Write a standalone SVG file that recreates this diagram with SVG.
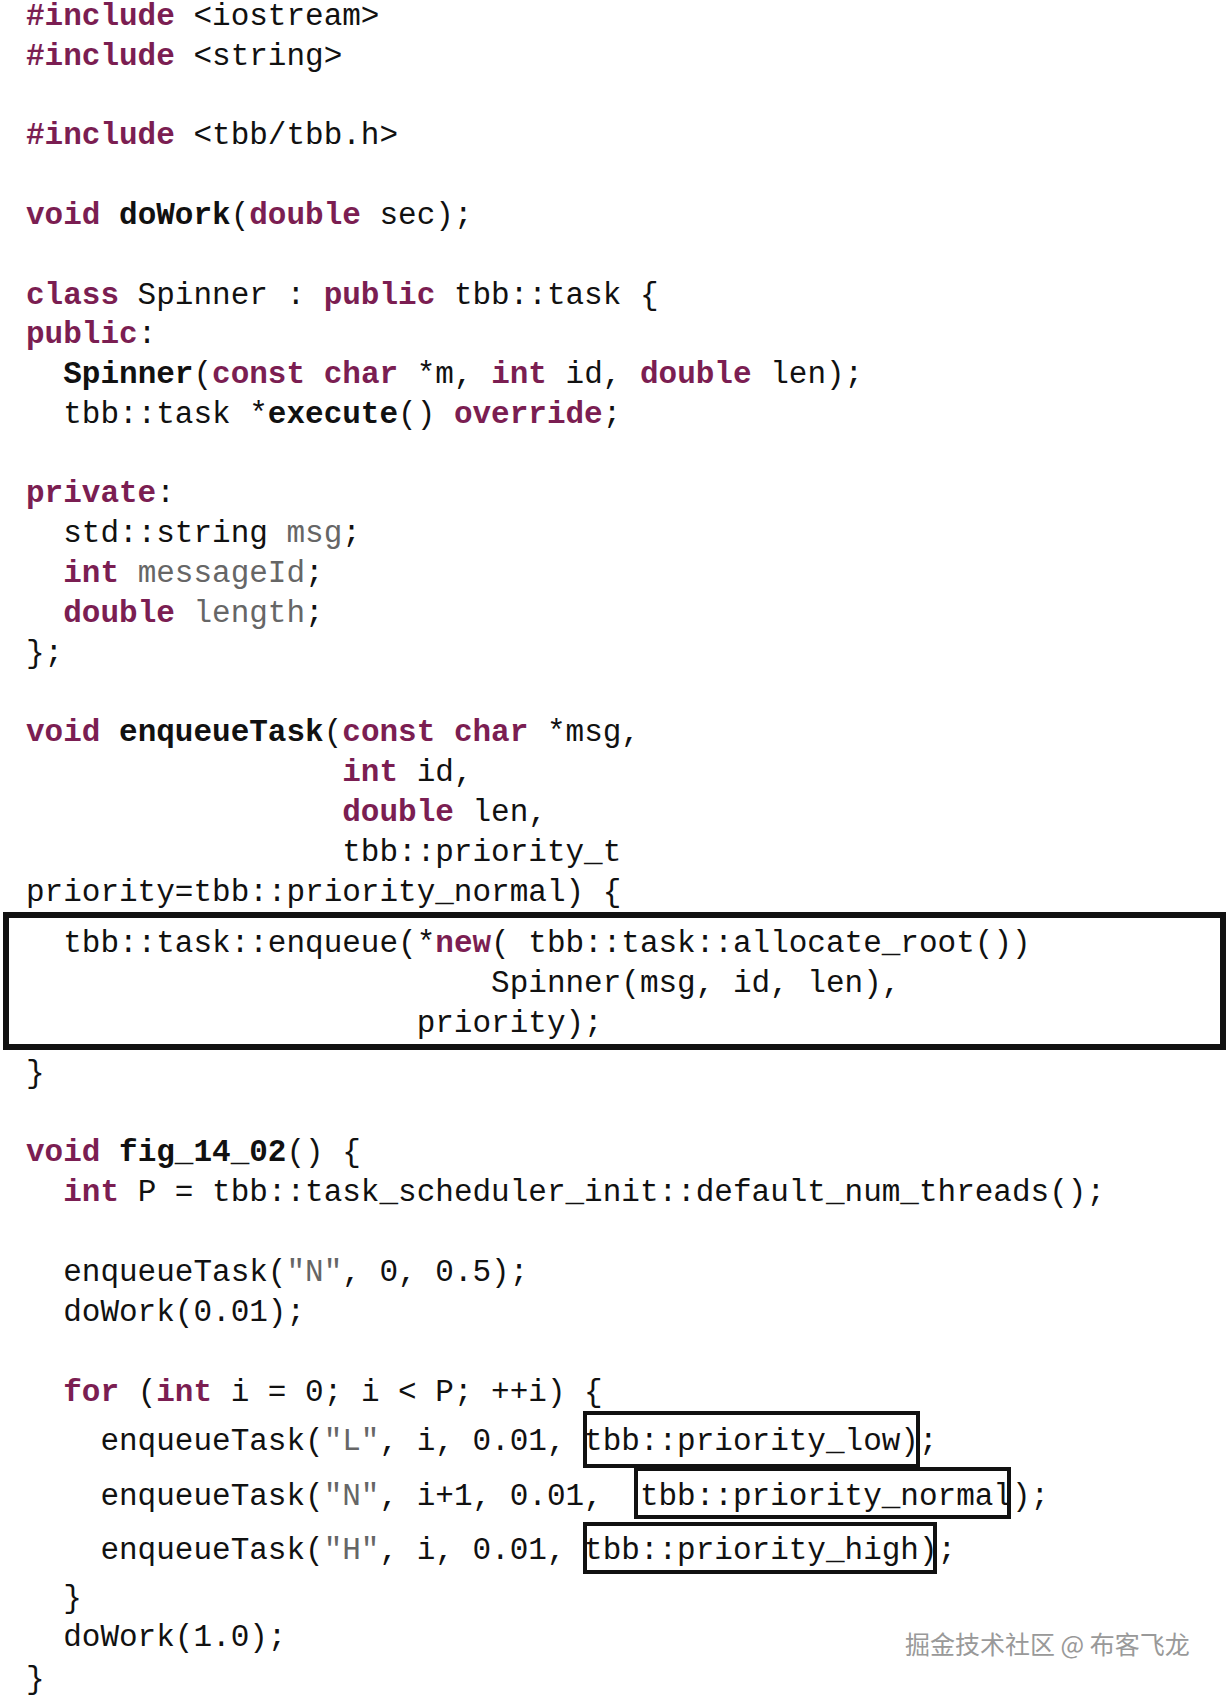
<svg xmlns="http://www.w3.org/2000/svg" width="1228" height="1697" viewBox="0 0 1228 1697">
<style>
text{font-family:"Liberation Mono","DejaVu Sans Mono",monospace;font-size:31px;fill:#111;white-space:pre}
.k{fill:#7b1e52;font-weight:bold}
.f{font-weight:bold}
.g{fill:#666}
.box{fill:none;stroke:#111}
.wm{font-family:"Noto Sans CJK SC",sans-serif;font-size:25px;fill:#999}
</style>
<rect width="1228" height="1697" fill="#fff"/>
<g id="code" xml:space="preserve">
<text x="26" y="25"><tspan class="k">#include</tspan> &lt;iostream&gt;</text>
<text x="26" y="65"><tspan class="k">#include</tspan> &lt;string&gt;</text>
<text x="26" y="144"><tspan class="k">#include</tspan> &lt;tbb/tbb.h&gt;</text>
<text x="26" y="224"><tspan class="k">void</tspan> <tspan class="f">doWork</tspan>(<tspan class="k">double</tspan> sec);</text>
<text x="26" y="304"><tspan class="k">class</tspan> Spinner : <tspan class="k">public</tspan> tbb::task {</text>
<text x="26" y="343"><tspan class="k">public</tspan>:</text>
<text x="26" y="383">  <tspan class="f">Spinner</tspan>(<tspan class="k">const</tspan> <tspan class="k">char</tspan> *m, <tspan class="k">int</tspan> id, <tspan class="k">double</tspan> len);</text>
<text x="26" y="423">  tbb::task *<tspan class="f">execute</tspan>() <tspan class="k">override</tspan>;</text>
<text x="26" y="502"><tspan class="k">private</tspan>:</text>
<text x="26" y="542">  std::string <tspan class="g">msg</tspan>;</text>
<text x="26" y="582">  <tspan class="k">int</tspan> <tspan class="g">messageId</tspan>;</text>
<text x="26" y="622">  <tspan class="k">double</tspan> <tspan class="g">length</tspan>;</text>
<text x="26" y="662">};</text>
<text x="26" y="741"><tspan class="k">void</tspan> <tspan class="f">enqueueTask</tspan>(<tspan class="k">const</tspan> <tspan class="k">char</tspan> *msg,</text>
<text x="26" y="781">                 <tspan class="k">int</tspan> id,</text>
<text x="26" y="821">                 <tspan class="k">double</tspan> len,</text>
<text x="26" y="861">                 tbb::priority_t</text>
<text x="26" y="901">priority=tbb::priority_normal) {</text>
<text x="26" y="952">  tbb::task::enqueue(*<tspan class="k">new</tspan>( tbb::task::allocate_root())</text>
<text x="26" y="992">                         Spinner(msg, id, len),</text>
<text x="26" y="1032">                     priority);</text>
<text x="26" y="1082">}</text>
<text x="26" y="1161"><tspan class="k">void</tspan> <tspan class="f">fig_14_02</tspan>() {</text>
<text x="26" y="1201">  <tspan class="k">int</tspan> P = tbb::task_scheduler_init::default_num_threads();</text>
<text x="26" y="1281">  enqueueTask(<tspan class="g">"N"</tspan>, 0, 0.5);</text>
<text x="26" y="1321">  doWork(0.01);</text>
<text x="26" y="1401">  <tspan class="k">for</tspan> (<tspan class="k">int</tspan> i = 0; i &lt; P; ++i) {</text>
<text x="26" y="1450">    enqueueTask(<tspan class="g">"L"</tspan>, i, 0.01, tbb::priority_low);</text>
<text x="26" y="1505">    enqueueTask(<tspan class="g">"N"</tspan>, i+1, 0.01,  tbb::priority_normal);</text>
<text x="26" y="1559">    enqueueTask(<tspan class="g">"H"</tspan>, i, 0.01, tbb::priority_high);</text>
<text x="26" y="1607">  }</text>
<text x="26" y="1646">  doWork(1.0);</text>
<text x="26" y="1688">}</text>
</g>
<g id="boxes">
<rect class="box" x="6" y="915" width="1217" height="132" stroke-width="6"/>
<rect class="box" x="585" y="1413" width="333" height="53" stroke-width="4"/>
<rect class="box" x="636" y="1469" width="373" height="48" stroke-width="4"/>
<rect class="box" x="585" y="1524" width="350" height="48" stroke-width="4"/>
</g>
<text class="wm" x="905" y="1654">掘金技术社区 @ 布客飞龙</text>
</svg>
